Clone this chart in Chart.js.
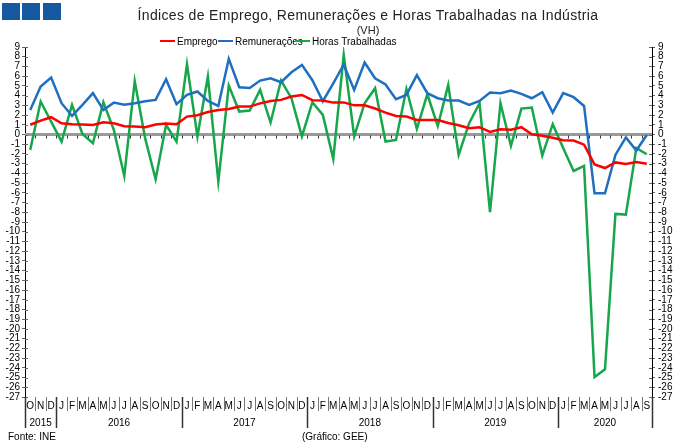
<!DOCTYPE html>
<html>
<head>
<meta charset="utf-8">
<script src="https://cdn.jsdelivr.net/npm/chart.js@4.4.1/dist/chart.umd.min.js"></script>
<style>
    body { margin: 0; background: #fff; font-family: "Liberation Sans", Arial, sans-serif; }
    #wrap { position: relative; width: 680px; height: 447px; overflow: hidden; }
    #chart { position: absolute; left: 0; top: 0; }
    .logo { position: absolute; top: 3px; width: 18px; height: 17px; background: #1559a0; }
    .title { position: absolute; left: 0; width: 736px; top: 7px; text-align: center; font-size: 14px; color: #222; letter-spacing: 0.35px; white-space: nowrap; }
    .sub { position: absolute; left: 0; width: 736px; top: 24px; text-align: center; font-size: 11px; color: #222; }
    .leg { position: absolute; top: 36px; font-size: 10px; color: #000; white-space: nowrap; }
    .leg i { display: inline-block; width: 15px; height: 2px; vertical-align: middle; margin-right: 2px; position: relative; top: -1px; }
    .foot { position: absolute; top: 431px; font-size: 10px; color: #000; }
</style>
</head>
<body>
<div id="wrap">
    <canvas id="chart" width="680" height="447"></canvas>
    <div class="logo" style="left:2px"></div>
    <div class="logo" style="left:22px"></div>
    <div class="logo" style="left:43px"></div>
    <div class="title">Índices de Emprego, Remunerações e Horas Trabalhadas na Indústria</div>
    <div class="sub">(VH)</div>
    <div class="leg" style="left:160px"><i style="background:#ff0000"></i>Emprego</div>
    <div class="leg" style="left:218px"><i style="background:#1f6fc0"></i>Remunerações</div>
    <div class="leg" style="left:295px"><i style="background:#17a64b"></i>Horas Trabalhadas</div>
    <div class="foot" style="left:8px">Fonte: INE</div>
    <div class="foot" style="left:302px">(Gráfico: GEE)</div>
</div>
<script>
// Month initials from Oct 2015 to Sep 2020
const months = ['O','N','D',
    'J','F','M','A','M','J','J','A','S','O','N','D',
    'J','F','M','A','M','J','J','A','S','O','N','D',
    'J','F','M','A','M','J','J','A','S','O','N','D',
    'J','F','M','A','M','J','J','A','S','O','N','D',
    'J','F','M','A','M','J','J','A','S'];
const years = ['2015','2016','2017','2018','2019','2020'];
const yearStart = [0, 3, 15, 27, 39, 51, 60];

const emprego = [1.0, 1.43, 1.78,
    1.16, 1.06, 1.03, 0.99, 1.26, 1.16, 0.85, 0.82, 0.75, 1.02, 1.12, 1.06,
    1.84, 1.98, 2.32, 2.53, 2.63, 2.87, 2.87, 3.2, 3.45, 3.56, 3.9, 4.07,
    3.53, 3.5, 3.28, 3.3, 3.0, 3.0, 2.67, 2.25, 1.91, 1.85, 1.5, 1.48,
    1.48, 1.19, 0.95, 0.65, 0.75, 0.27, 0.54, 0.5, 0.75, 0.02, -0.12, -0.33,
    -0.6, -0.62, -1.05, -3.08, -3.45, -2.87, -3.03, -2.83, -3.0];

const remuneracoes = [2.53, 4.93, 5.86,
    3.22, 1.91, 3.05, 4.25, 2.53, 3.28, 3.05, 3.22, 3.42, 3.56, 5.69, 3.11,
    4.07, 4.42, 3.46, 2.94, 7.78, 4.86, 4.79, 5.55, 5.79, 5.38, 6.4, 7.16,
    5.58, 3.42, 5.27, 7.2, 4.59, 7.4, 5.79, 5.14, 3.63, 4.07, 6.1, 4.25,
    3.73, 3.49, 3.49, 3.05, 3.46, 4.31, 4.25, 4.52, 4.18, 3.73, 4.35, 2.25,
    4.25, 3.84, 2.94, -6.04, -6.04, -2.1, -0.3, -1.65, -0.05];

const horas = [-1.58, 3.39, 1.33,
    -0.73, 3.05, 0.06, -0.9, 3.32, 0.47, -4.26, 5.48, -0.4, -4.6, 0.99, -0.73,
    7.23, -0.2, 5.96, -4.84, 5.03, 2.36, 2.46, 4.59, 1.23, 5.55, 3.73, -0.2,
    3.32, 2.02, -2.51, 8.19, -0.2, 3.22, 4.76, -0.73, -0.56, 4.69, 0.58, 4.14,
    0.88, 5.1, -2.1, 1.16, 3.22, -7.98, 3.22, -1.17, 2.67, 2.77, -2.17, 1.06,
    -1.4, -3.75, -3.23, -24.95, -24.15, -8.17, -8.24, -1.4, -2.03];

const yMin = -27;
const yMax = 9;

// zero line, inner tick marks, month/year separators and year labels
const decor = {
    id: 'decor',
    beforeDatasetsDraw(chart) {
        const { ctx, chartArea } = chart;
        const y = chart.scales.y;
        const step = (chartArea.right - chartArea.left) / months.length;
        const y0 = y.getPixelForValue(0);
        ctx.save();
        ctx.strokeStyle = '#9a9a9a';
        ctx.lineWidth = 3;
        ctx.beginPath();
        ctx.moveTo(chartArea.left, y0);
        ctx.lineTo(chartArea.right, y0);
        ctx.stroke();
        ctx.strokeStyle = '#333';
        ctx.lineWidth = 1;
        for (let i = 1; i < months.length; i++) {
            const px = Math.round(chartArea.left + i * step) + 0.5;
            ctx.beginPath();
            ctx.moveTo(px, y0 + 1);
            ctx.lineTo(px, y0 + 4);
            ctx.stroke();
        }
        // inner half of the axis ticks
        ctx.strokeStyle = '#666';
        for (let v = yMin; v <= yMax; v++) {
            const py = Math.round(y.getPixelForValue(v)) + 0.5;
            ctx.beginPath();
            ctx.moveTo(chartArea.left, py);
            ctx.lineTo(chartArea.left + 3, py);
            ctx.moveTo(chartArea.right - 3, py);
            ctx.lineTo(chartArea.right, py);
            ctx.stroke();
        }
        ctx.restore();
    },
    afterDraw(chart) {
        const { ctx, chartArea } = chart;
        const x = chart.scales.x;
        const step = (chartArea.right - chartArea.left) / months.length;
        ctx.save();
        for (let i = 0; i <= months.length; i++) {
            const px = Math.round(chartArea.left + i * step) + 0.5;
            const isYear = yearStart.includes(i);
            ctx.strokeStyle = isYear ? '#333' : '#777';
            ctx.lineWidth = isYear ? 1.5 : 1;
            ctx.beginPath();
            ctx.moveTo(px, chartArea.bottom);
            ctx.lineTo(px, chartArea.bottom + (isYear ? 31 : 14));
            ctx.stroke();
        }
        ctx.fillStyle = '#000';
        ctx.font = '10px "Liberation Sans", Arial, sans-serif';
        ctx.textAlign = 'center';
        ctx.textBaseline = 'middle';
        years.forEach((yr, k) => {
            const a = x.getPixelForValue(yearStart[k]);
            const b = x.getPixelForValue(yearStart[k + 1] - 1);
            ctx.fillText(yr, (a + b) / 2, chartArea.bottom + 26);
        });
        ctx.restore();
    },
};

const tickFont = { family: '"Liberation Sans", Arial, sans-serif', size: 10, lineHeight: 0.9 };

function lineSet(label, data, color) {
    return {
        label: label,
        data: data,
        borderColor: color,
        backgroundColor: color,
        borderWidth: 2.5,
        pointRadius: 0,
        tension: 0,
        yAxisID: 'y',
    };
}

new Chart(document.getElementById('chart').getContext('2d'), {
    type: 'line',
    data: {
        labels: months,
        datasets: [
            lineSet('Emprego', emprego, '#ff0000'),
            lineSet('Remunerações', remuneracoes, '#1f6fc0'),
            lineSet('Horas Trabalhadas', horas, '#17a64b'),
        ],
    },
    options: {
        responsive: false,
        animation: false,
        devicePixelRatio: 1,
        layout: { padding: { top: 47, left: 0, right: 0, bottom: 0 } },
        plugins: {
            legend: { display: false },
            tooltip: { enabled: false },
        },
        scales: {
            x: {
                offset: true,
                grid: { display: false, drawTicks: false },
                border: { display: false },
                ticks: { font: tickFont, color: '#000', padding: 5, autoSkip: false, maxRotation: 0 },
                afterFit(scale) { scale.height = 50; },
            },
            y: {
                position: 'left',
                min: yMin,
                max: yMax,
                grid: { drawOnChartArea: false, tickLength: 3, color: '#666' },
                border: { display: true, color: '#000', width: 1 },
                ticks: { stepSize: 1, autoSkip: false, font: tickFont, color: '#000', padding: 2 },
                afterFit(scale) { scale.width = 25; },
            },
            y2: {
                position: 'right',
                min: yMin,
                max: yMax,
                grid: { drawOnChartArea: false, tickLength: 3, color: '#666' },
                border: { display: true, color: '#000', width: 1 },
                ticks: { stepSize: 1, autoSkip: false, font: tickFont, color: '#000', padding: 3 },
                afterFit(scale) { scale.width = 28; },
            },
        },
    },
    plugins: [decor],
});
</script>
</body>
</html>
